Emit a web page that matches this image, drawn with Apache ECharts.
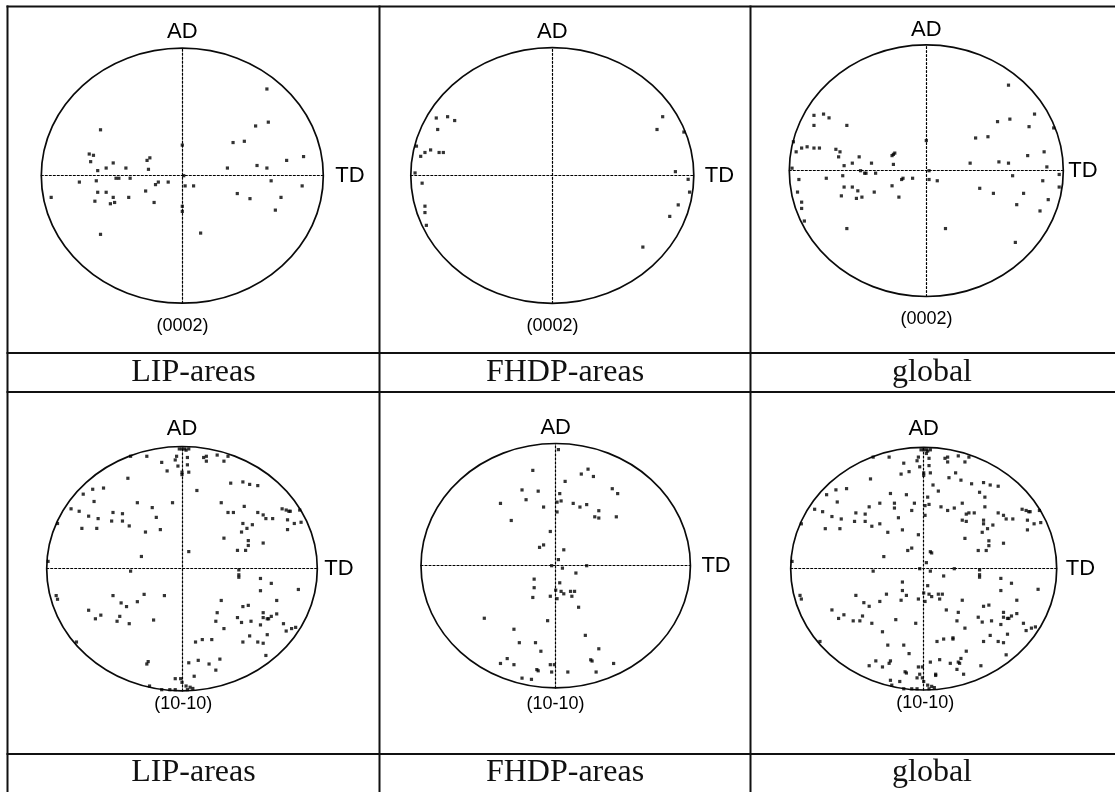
<!DOCTYPE html>
<html>
<head>
<meta charset="utf-8">
<script src="https://cdn.jsdelivr.net/npm/echarts@6/dist/echarts.min.js"></script>
<style>
html,body{margin:0;padding:0;background:#fff;}
#chart{width:1115px;height:792px;}
</style>
</head>
<body>
<div id="chart"></div>
<script>
// ---- data: normalized pole-figure coordinates (TD = x, AD = y), radius = 100 ----
const rowLabels = ['LIP-areas', 'FHDP-areas', 'global'];
const poleLabels = ['(0002)', '(10-10)'];
const axisNames = { x: 'TD', y: 'AD' };

const lip0002 = [[60,68],[61,42],[52,39],[44,27],[36,26],[-58,36],[0,24],[-66,17],[-63,16],[-65,11],[-23,14],[-25,12],[-24,5],[-49,10],[-40,6],[-54,6],[-60,4],[86,15],[74,12],[53,8],[60,6],[32,6],[1,0],[-47,-2],[-45,-2],[-37,-2],[-61,-4],[-73,-5],[-17,-5],[-19,-7],[-10,-5],[2,-8],[8,-8],[63,-4],[85,-8],[-93,-17],[-60,-13],[-54,-13],[-26,-12],[-49,-17],[-38,-17],[-62,-20],[-51,-22],[-48,-21],[-20,-21],[0,-24],[0,-28],[39,-14],[48,-18],[70,-17],[66,-27],[-58,-46],[13,-45]];

const fhdp0002 = [[-82,45],[-74,46],[-69,43],[-81,36],[78,46],[74,36],[93,34],[-96,23],[-93,15],[-90,18],[-86,20],[-80,18],[-77,18],[-97,2],[-92,-6],[87,3],[96,-3],[97,-13],[89,-23],[83,-32],[-90,-24],[-90,-29],[-89,-39],[64,-56]];

const global0002 = [[60,68],[-82,44],[-75,45],[-71,42],[-82,36],[-58,36],[79,45],[52,39],[61,41],[75,35],[93,34],[36,26],[45,27],[0,24],[-97,23],[-95,15],[-91,18],[-87,19],[-82,18],[-78,18],[-66,17],[-63,15],[-64,11],[-49,11],[-23,14],[-24,13],[-25,12],[-54,6],[-60,4],[-40,6],[-24,5],[-98,2],[32,6],[53,7],[60,6],[74,12],[86,15],[88,3],[2,0],[-48,0],[-45,-2],[-44,-2],[-37,-2],[-93,-7],[-73,-6],[-61,-4],[-17,-6],[-18,-7],[-10,-6],[2,-7],[8,-8],[63,-4],[85,-8],[97,-3],[-94,-17],[-60,-13],[-54,-13],[-50,-16],[-51,-22],[-47,-21],[-38,-17],[-25,-12],[-62,-20],[-20,-21],[39,-14],[49,-18],[71,-18],[97,-13],[-91,-25],[-91,-30],[-89,-40],[66,-27],[89,-23],[83,-32],[-58,-46],[14,-46],[65,-57]];

const lip1010 = [[-2,98],[0,98],[2,98],[3,97],[5,98],[-4,92],[-5,89],[-3,84],[0,79],[0,77],[4,91],[4,85],[5,79],[-11,80],[-15,87],[-26,92],[-38,92],[-40,74],[11,64],[16,91],[18,92],[18,88],[26,93],[31,88],[34,92],
[-73,61],[-66,65],[-58,66],[-65,55],[-82,49],[-76,47],[-69,43],[-62,41],[-51,46],[-44,45],[-52,39],[-44,39],[-74,33],[-63,33],[-39,35],[-33,54],[-22,50],[-19,42],[-27,30],[-16,32],[-7,54],[-30,10],[-92,37],[-99,6],
[36,70],[45,71],[50,69],[56,68],[29,54],[46,51],[34,46],[38,46],[56,46],[60,44],[62,41],[67,41],[74,49],[77,48],[79,47],[80,47],[87,48],[78,40],[83,37],[88,38],[78,32],[45,37],[52,36],[48,33],[44,30],[31,25],[49,23],[49,19],[41,15],[47,15],[60,21],[5,14],
[-38,-2],[42,-1],[42,-5],[42,-7],
[58,-8],[66,-12],[58,-18],[86,-17],[70,-26],[29,-26],[45,-31],[49,-30],[60,-36],[26,-36],[41,-40],[44,-44],[51,-43],[58,-46],[60,-40],[63,-41],[64,-41],[66,-39],[70,-37],[25,-43],[31,-49],[75,-45],[81,-49],[77,-51],[84,-48],[63,-54],[50,-55],[45,-60],[56,-60],[60,-61],[15,-58],[22,-58],[10,-60],[62,-71],[28,-74],[20,-78],[25,-83],[12,-75],[5,-77],[9,-88],
[-93,-22],[-92,-25],[-69,-34],[-51,-22],[-45,-28],[-41,-31],[-28,-21],[-33,-27],[-13,-22],[-60,-38],[-64,-41],[-46,-39],[-48,-43],[-39,-45],[-21,-42],[-78,-60],[-25,-76],[-26,-78],
[-5,-90],[-1,-90],[0,-93],[3,-96],[6,-97],[8,-98],[-24,-96],[-15,-99],[-9,-99],[-5,-99],[4,-99]];

const fhdp1010 = [[2,95],[-17,78],[24,79],[19,75],[28,73],[7,69],[-25,62],[-13,61],[42,63],[46,59],[3,59],[-41,51],[-22,54],[1,52],[4,53],[13,51],[18,48],[23,50],[-9,48],[32,45],[1,44],[29,40],[32,39],[45,40],[-33,37],[-4,28],[-12,15],[-9,17],[6,13],[2,5],[23,0],[-3,0],[5,-2],[15,-6],[-16,-11],[-16,-18],[3,-14],[-17,-26],[-4,-25],[0,-20],[4,-21],[6,-23],[1,-27],[11,-21],[12,-25],[14,-21],[17,-34],[-6,-45],[-53,-43],[-31,-52],[-27,-63],[-15,-63],[22,-57],[32,-68],[-11,-70],[26,-77],[27,-78],[43,-80],[-41,-80],[-36,-76],[-31,-81],[-4,-81],[-1,-81],[-14,-85],[-13,-86],[-3,-87],[9,-87],[30,-87],[-25,-92],[-18,-93]];

// global (10-10) figure shows all grains: LIP-areas plus FHDP-areas
const global1010 = lip1010.concat(fhdp1010);

const panelData = [lip0002, fhdp0002, global0002, lip1010, fhdp1010, global1010];

// ---- layout (pixels) ----
const panels = [
  { l: 41.3, t: 48.2, w: 282, h: 255, tdGap: 12, adGap: 5, lab: [182.5, 326], pole: 0 },
  { l: 410.8, t: 47.7, w: 283, h: 255.6, tdGap: 11, adGap: 5, lab: [552.5, 326], pole: 0 },
  { l: 789.3, t: 44.9, w: 274, h: 251.6, tdGap: 5, adGap: 4, lab: [926.5, 319.5], pole: 0 },
  { l: 46.7, t: 446.5, w: 270.6, h: 244.4, tdGap: 7, adGap: 7, lab: [183.3, 704.5], pole: 1 },
  { l: 421, t: 443.5, w: 269.4, h: 244.4, tdGap: 11, adGap: 5, lab: [555.5, 704.5], pole: 1 },
  { l: 790.7, t: 447.4, w: 266, h: 242.6, tdGap: 9, adGap: 7, lab: [925.3, 703.5], pole: 1 }
];

const ink = '#111';
const grid = [], xAxis = [], yAxis = [], series = [], graphic = [];

panels.forEach((p, i) => {
  grid.push({ left: p.l, top: p.t, width: p.w, height: p.h, containLabel: false });
  const axisLine = { show: true, onZero: true, lineStyle: { color: '#000', width: 1.2, type: [2, 2] } };
  const nameStyle = { fontFamily: 'Liberation Sans', fontSize: 22, color: '#000' };
  xAxis.push({ gridIndex: i, type: 'value', min: -100, max: 100, axisLine, axisTick: { show: false },
    axisLabel: { show: false }, splitLine: { show: false }, name: axisNames.x, nameLocation: 'end',
    nameGap: p.tdGap, nameTextStyle: Object.assign({ align: 'left', verticalAlign: 'middle' }, nameStyle) });
  yAxis.push({ gridIndex: i, type: 'value', min: -100, max: 100, axisLine, axisTick: { show: false },
    axisLabel: { show: false }, splitLine: { show: false }, name: axisNames.y, nameLocation: 'end',
    nameGap: p.adGap, nameTextStyle: Object.assign({ align: 'center', verticalAlign: 'bottom' }, nameStyle) });
  series.push({
    type: 'custom', xAxisIndex: i, yAxisIndex: i, data: [[0, 0]], silent: true, z: 3,
    renderItem: (params, api) => {
      const c = api.coord([0, 0]);
      const s = api.size([100, 100]);
      return { type: 'ellipse', shape: { cx: c[0], cy: c[1], rx: s[0], ry: s[1] },
        style: { fill: 'none', stroke: '#0a0a0a', lineWidth: 1.7 } };
    }
  });
  series.push({
    type: 'scatter', xAxisIndex: i, yAxisIndex: i, data: panelData[i], symbol: 'rect',
    symbolSize: 3.2, itemStyle: { color: '#000' }, silent: true, clip: false, z: 4
  });
  graphic.push({ type: 'text', x: p.lab[0], y: p.lab[1], silent: true,
    style: { text: poleLabels[p.pole], align: 'center', verticalAlign: 'middle',
      fontFamily: 'Liberation Sans', fontSize: 18, fill: '#000' } });
});

// table lines
const hLines = [6.5, 353, 392, 754];
const vLines = [7.5, 379.5, 750.5];
hLines.forEach(y => graphic.push({ type: 'line', silent: true,
  shape: { x1: 6.5, y1: y, x2: 1115, y2: y }, style: { stroke: ink, lineWidth: 2.2 } }));
vLines.forEach(x => graphic.push({ type: 'line', silent: true,
  shape: { x1: x, y1: 5.5, x2: x, y2: 792 }, style: { stroke: ink, lineWidth: 2 } }));

// row labels
const colCenters = [193.5, 565, 932];
[372.5, 772.5].forEach(y => {
  rowLabels.forEach((t, k) => graphic.push({ type: 'text', x: colCenters[k], y: y, silent: true,
    style: { text: t, align: 'center', verticalAlign: 'middle', fontFamily: 'Liberation Serif',
      fontSize: 32, fill: ink } }));
});

const chart = echarts.init(document.getElementById('chart'), null, { renderer: 'canvas' });
chart.setOption({ animation: false, backgroundColor: '#fff', grid, xAxis, yAxis, series, graphic });
</script>
</body>
</html>
